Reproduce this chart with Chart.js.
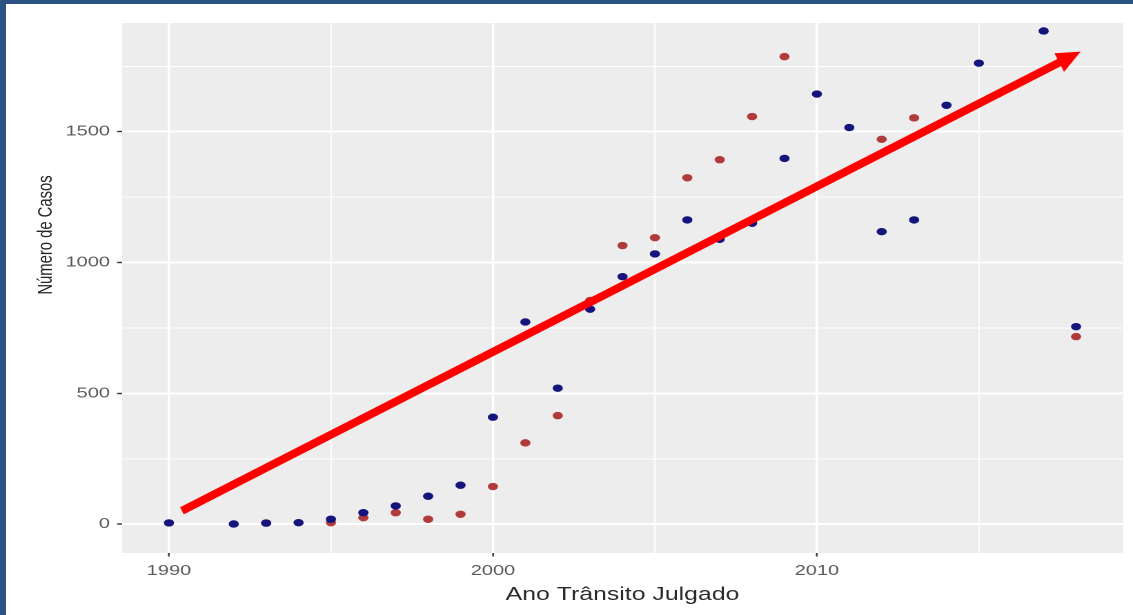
<!DOCTYPE html>
<html lang="pt">
<head>
<meta charset="utf-8">
<title>Número de Casos por Ano Trânsito Julgado</title>
<script src="https://cdn.jsdelivr.net/npm/chart.js@4.4.1/dist/chart.umd.min.js"></script>
<style>
  html, body { margin: 0; padding: 0; background: #ffffff; width: 1133px; height: 615px; overflow: hidden; }
  #stage { position: absolute; left: 0; top: 0; width: 821px; height: 615px; transform-origin: 0 0; }
  #plot { display: block; width: 821px; height: 615px; }
  .frame { position: absolute; background: #2b5283; }
  #frame-left { left: 0; top: 0; width: 6px; height: 615px; }
  #frame-top { left: 0; top: 0; width: 1133px; height: 4px; }
</style>
</head>
<body>
<div id="stage"><canvas id="plot" width="821" height="615"></canvas></div>
<div class="frame" id="frame-left"></div>
<div class="frame" id="frame-top"></div>
<script>
// Anos com trânsito em julgado e número de casos de cada série (null = sem registro)
const YEARS = [1990, 1991, 1992, 1993, 1994, 1995, 1996, 1997, 1998, 1999,
               2000, 2001, 2002, 2003, 2004, 2005, 2006, 2007, 2008, 2009,
               2010, 2011, 2012, 2013, 2014, 2015, 2016, 2017, 2018];
const CASOS_AZUL = [5, null, 1, 4, 6, 19, 44, 70, 107, 149,
                    409, 773, 520, 822, 946, 1033, 1163, 1089, 1150, 1398,
                    1644, 1516, 1118, 1163, 1601, 1762, null, 1885, 755];
const CASOS_VERMELHO = [null, null, null, 5, null, 6, 25, 44, 19, 38,
                        144, 311, 415, 855, 1065, 1095, 1324, 1393, 1558, 1787,
                        null, null, 1471, 1553, null, null, null, null, 717];

// Marcas dos eixos: principais (com rótulo) e secundárias (só grade)
const X_TICKS = [1990, 2000, 2010];
const X_MINOR = [1995, 2005, 2015];
const Y_TICKS = [0, 500, 1000, 1500];
const Y_MINOR = [250, 750, 1250, 1750];

// Seta de tendência, em unidades dos eixos (ano, casos)
const TREND_FROM = [1990.4, 51];
const TREND_TO = [2018.14, 1806];

// The figure is drawn narrow and widened horizontally on screen
const STRETCH = 1.38;
document.getElementById('stage').style.transform = 'scaleX(' + STRETCH + ')';

const FONT = "'Liberation Sans', Arial, Helvetica, sans-serif";
Chart.defaults.font.family = FONT;

const toPoints = vals => YEARS
  .map((year, i) => ({ x: year, y: vals[i] }))
  .filter(p => p.y !== null);

const isMajor = (list, ctx) => ctx.tick && list.includes(ctx.tick.value);

// Gray panel behind the grid
const panelBackground = {
  id: 'panelBackground',
  beforeDraw(chart) {
    const { ctx, chartArea: a } = chart;
    ctx.save();
    ctx.fillStyle = '#ededed';
    ctx.fillRect(a.left, a.top, a.right - a.left, a.bottom - a.top);
    ctx.restore();
  }
};

// Rotated title of the vertical axis
const yTitle = {
  id: 'yTitle',
  afterDraw(chart) {
    const ctx = chart.ctx;
    ctx.save();
    ctx.translate(33.6, 235);
    ctx.rotate(-Math.PI / 2);
    ctx.font = '14.8px ' + FONT;
    ctx.fillStyle = '#222222';
    ctx.textAlign = 'center';
    ctx.textBaseline = 'middle';
    ctx.fillText('Número de Casos', 0, 0);
    ctx.restore();
  }
};

// Thick red trend arrow; shape computed in on-screen (widened) space
const trendArrow = {
  id: 'trendArrow',
  afterDatasetsDraw(chart) {
    const { ctx, scales: { x, y } } = chart;
    const p0 = { x: x.getPixelForValue(TREND_FROM[0]) * STRETCH, y: y.getPixelForValue(TREND_FROM[1]) };
    const p1 = { x: x.getPixelForValue(TREND_TO[0]) * STRETCH, y: y.getPixelForValue(TREND_TO[1]) };
    const dx = p1.x - p0.x, dy = p1.y - p0.y, len = Math.hypot(dx, dy);
    const ux = dx / len, uy = dy / len, nx = -uy, ny = ux;
    const shaftHalf = 4, headLen = 24, headHalf = 10.5;
    const bx = p1.x - ux * headLen, by = p1.y - uy * headLen;
    const poly = pts => {
      ctx.beginPath();
      pts.forEach(([px, py], i) => (i ? ctx.lineTo(px / STRETCH, py) : ctx.moveTo(px / STRETCH, py)));
      ctx.closePath();
      ctx.fill();
    };
    ctx.save();
    ctx.fillStyle = '#ff0000';
    poly([
      [p0.x + nx * shaftHalf, p0.y + ny * shaftHalf],
      [bx + ux + nx * shaftHalf, by + uy + ny * shaftHalf],
      [bx + ux - nx * shaftHalf, by + uy - ny * shaftHalf],
      [p0.x - nx * shaftHalf, p0.y - ny * shaftHalf]
    ]);
    poly([
      [p1.x, p1.y],
      [bx + nx * headHalf, by + ny * headHalf],
      [bx - nx * headHalf, by - ny * headHalf]
    ]);
    ctx.restore();
  }
};

new Chart(document.getElementById('plot'), {
  type: 'scatter',
  data: {
    datasets: [
      {
        label: 'Casos (azul)',
        data: toPoints(CASOS_AZUL),
        backgroundColor: '#14147c',
        borderWidth: 0,
        pointRadius: 3.7,
        pointHoverRadius: 3.7
      },
      {
        label: 'Casos (vermelho)',
        data: toPoints(CASOS_VERMELHO),
        backgroundColor: '#b13b3b',
        borderWidth: 0,
        pointRadius: 3.7,
        pointHoverRadius: 3.7
      }
    ]
  },
  options: {
    responsive: false,
    devicePixelRatio: 2,
    animation: false,
    layout: { padding: { left: 0, top: 23, right: 7.2, bottom: 0 } },
    plugins: {
      legend: { display: false },
      tooltip: { enabled: false }
    },
    scales: {
      x: {
        type: 'linear',
        min: 1988.55,
        max: 2019.45,
        afterBuildTicks: s => { s.ticks = X_TICKS.concat(X_MINOR).sort((a, b) => a - b).map(v => ({ value: v })); },
        afterFit: s => { s.height = 62; },
        border: { display: false },
        grid: {
          color: '#ffffff',
          lineWidth: ctx => isMajor(X_TICKS, ctx) ? 1.7 : 0.9,
          drawTicks: true,
          tickLength: 3.5,
          tickWidth: 1.2,
          tickColor: ctx => isMajor(X_TICKS, ctx) ? '#333333' : 'rgba(0,0,0,0)'
        },
        ticks: {
          autoSkip: false,
          maxRotation: 0,
          padding: 6,
          color: '#5a5a5a',
          font: { size: 14.5 },
          callback: v => X_TICKS.includes(v) ? String(v) : ''
        },
        title: {
          display: true,
          text: 'Ano Trânsito Julgado',
          color: '#2a2a2a',
          font: { size: 18 },
          padding: { top: 0, bottom: 9.2 }
        }
      },
      y: {
        type: 'linear',
        min: -110,
        max: 1915.5,
        afterBuildTicks: s => { s.ticks = Y_TICKS.concat(Y_MINOR).sort((a, b) => a - b).map(v => ({ value: v })); },
        afterFit: s => { s.width = 88.4; },
        border: { display: false },
        grid: {
          color: '#ffffff',
          lineWidth: ctx => isMajor(Y_TICKS, ctx) ? 2 : 1,
          drawTicks: true,
          tickLength: 3.5,
          tickWidth: 1.4,
          tickColor: ctx => isMajor(Y_TICKS, ctx) ? '#333333' : 'rgba(0,0,0,0)'
        },
        ticks: {
          autoSkip: false,
          padding: 5.2,
          color: '#5a5a5a',
          font: { size: 14.5 },
          callback: v => Y_TICKS.includes(v) ? String(v) : ''
        }
      }
    }
  },
  plugins: [panelBackground, trendArrow, yTitle]
});
</script>
</body>
</html>
